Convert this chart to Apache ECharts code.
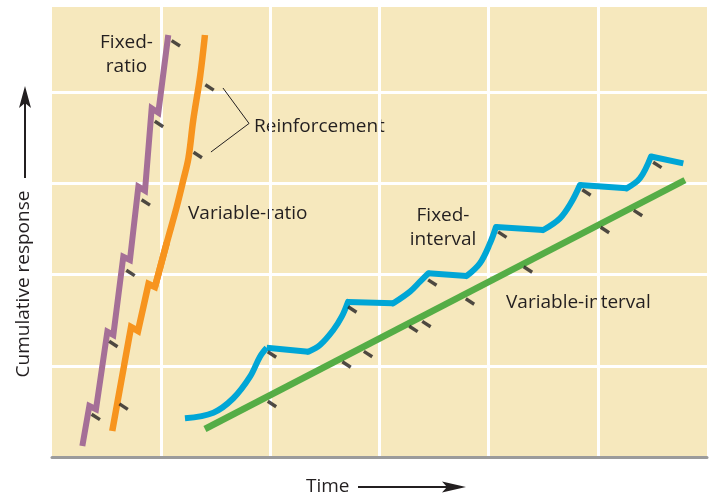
<!DOCTYPE html>
<html>
<head>
<meta charset="utf-8">
<script src="https://cdn.jsdelivr.net/npm/echarts@6/dist/echarts.min.js"></script>
<style>html,body{margin:0;padding:0;background:#fff;}#c{width:710px;height:494px;}</style>
</head>
<body>
<div id="c"></div>
<script>
// Time axis 0-60, cumulative response axis 0-49.34 (arbitrary units)
const fixedRatio = [[2.78,1.21],[3.42,5.59],[4.03,5.23],[5.07,13.74],[5.62,13.38],[6.53,21.96],[7.14,21.60],[7.91,29.64],[8.52,29.20],[9.13,38.23],[9.74,37.75],[10.65,46.27]];
const fixedRatioReinf = [[4.01,4.39],[5.62,12.39],[7.19,20.18],[8.59,27.91],[9.80,36.51],[11.34,45.36]];

const variableRatio = [[5.52,2.85],[7.24,14.25],[7.88,13.82],[8.84,18.97],[9.43,18.64],[10.51,23.47],[11.42,27.41],[12.03,30.37],[12.50,32.79],[12.94,36.95],[13.56,41.67],[14.01,46.27]];
const variableRatioReinf = [[6.56,5.52],[13.35,33.11],[14.43,40.52]];

const fixedInterval = [[12.18,4.24],[14.78,4.86],[16.61,6.44],[18.14,8.80],[19.05,11.00],[19.67,11.98],[23.48,11.55],[24.55,12.28],[25.77,13.93],[26.54,15.38],[27.11,17.00],[31.26,16.85],[32.79,18.13],[33.71,19.22],[34.47,20.14],[37.99,19.85],[39.20,21.24],[40.12,23.43],[40.67,25.22],[45.00,24.89],[46.53,26.17],[47.60,27.99],[48.36,29.82],[52.64,29.46],[53.86,30.56],[54.87,32.95],[57.83,32.20]];
// indices in fixedInterval where a scallop peaks (reinforcement, start of post-reinforcement pause)
const fixedIntervalPeaks = [5,10,14,18,22,25];
const fixedIntervalReinf = [[20.15,11.24],[27.51,16.17],[34.84,19.13],[41.25,24.38],[48.96,29.00],[55.45,32.02]];

const variableInterval = [[14.01,3.07],[57.98,30.37]];
const variableIntervalReinf = [[20.15,5.81],[26.98,10.14],[28.95,11.29],[33.11,14.04],[34.30,14.58],[38.29,17.05],[43.60,20.56],[50.65,24.89],[53.68,26.75]];

const reinforcementCallout = [[15.66,40.46],[18.05,36.57],[14.56,33.44]];

const xTicks = [0,10,20,30,40,50,60];
const yTicks = [0,10,20,30,40];

const FONT = '"Open Sans", sans-serif';
const INK = '#231f20';
const FI_COLOR = '#00a6d6';

function lineSeries(name, data, color, width, smooth, cap) {
  return {name, type:'line', data, showSymbol:false, symbol:'none', animation:false, smooth: smooth || false,
    lineStyle:{color, width, cap: cap || 'butt', join:'miter'}, z:3};
}
function hashSeries(name, data) {
  return {name, type:'scatter', data, symbol:'rect', symbolSize:[10,3.4], symbolRotate:-33,
    itemStyle:{color:INK}, animation:false, z:4};
}

// Variable-ratio: the stepped lower part is drawn straight, the accelerating upper part smoothed
const vrBreak = 5;

// Fixed-interval: scallops (smoothed) and pauses (straight) drawn as pieces of the same record
const fiPieces = [];
let start = 0;
fixedIntervalPeaks.forEach((p, i) => {
  fiPieces.push(lineSeries('Fixed-interval', fixedInterval.slice(start, p + 1), FI_COLOR, 6, 0.35, i === 0 ? 'butt' : 'round'));
  const end = i < fixedIntervalPeaks.length - 1 ? p + 1 : fixedInterval.length - 1;
  fiPieces.push(lineSeries('Fixed-interval', fixedInterval.slice(p, end + 1), FI_COLOR, 6, false, 'butt'));
  start = p + 1;
});

const chart = echarts.init(document.getElementById('c'));
chart.setOption({
  animation:false,
  grid:{left:52, right:3, top:7, bottom:37, show:true, backgroundColor:'#f6e8bd', borderWidth:0},
  xAxis:{type:'value', min:xTicks[0], max:xTicks[xTicks.length-1], interval:10,
    axisLine:{show:true, lineStyle:{color:'#9b9b9b', width:3}}, axisTick:{show:false}, axisLabel:{show:false},
    splitLine:{show:true, showMinLine:false, showMaxLine:false, lineStyle:{color:'#ffffff', width:3}}},
  yAxis:{type:'value', min:yTicks[0], max:49.34, interval:10,
    axisLine:{show:false}, axisTick:{show:false}, axisLabel:{show:false},
    splitLine:{show:true, showMinLine:false, showMaxLine:false, lineStyle:{color:'#ffffff', width:3}}},
  series:[
    lineSeries('Fixed-ratio', fixedRatio, '#a56f97', 6),
    lineSeries('Variable-ratio', variableRatio.slice(0, vrBreak + 1), '#f7941e', 6.5),
    lineSeries('Variable-ratio', variableRatio.slice(vrBreak - 1), '#f7941e', 6.5, 0.35),
    ...fiPieces,
    lineSeries('Variable-interval', variableInterval, '#55ad46', 6.5),
    hashSeries('FR reinforcement', fixedRatioReinf),
    hashSeries('VR reinforcement', variableRatioReinf),
    hashSeries('FI reinforcement', fixedIntervalReinf),
    hashSeries('VI reinforcement', variableIntervalReinf),
    {name:'callout', type:'line', data:reinforcementCallout, symbol:'none', animation:false,
      lineStyle:{color:INK, width:1}, z:4}
  ],
  graphic:[
    {type:'text', x:126.5, y:55, style:{text:'Fixed-\nratio', font:'19px '+FONT, fill:INK, align:'center', verticalAlign:'middle', lineHeight:24}},
    {type:'text', x:188, y:214, style:{text:'Variable-ratio', font:'19px '+FONT, fill:INK, align:'left', verticalAlign:'middle'}},
    {type:'text', x:254, y:127, style:{text:'Reinforcement', font:'19px '+FONT, fill:INK, align:'left', verticalAlign:'middle'}},
    {type:'text', x:443, y:228, style:{text:'Fixed-\ninterval', font:'19px '+FONT, fill:INK, align:'center', verticalAlign:'middle', lineHeight:24}},
    {type:'text', x:506, y:303, style:{text:'Variable-interval', font:'19px '+FONT, fill:INK, align:'left', verticalAlign:'middle'}},
    {type:'text', x:306, y:487, style:{text:'Time', font:'19px '+FONT, fill:INK, align:'left', verticalAlign:'middle'}},
    {type:'text', x:24, y:284, rotation:Math.PI/2, style:{text:'Cumulative response', font:'19px '+FONT, fill:INK, align:'center', verticalAlign:'middle'}},
    {type:'line', shape:{x1:358, y1:487, x2:450, y2:487}, style:{stroke:INK, lineWidth:2}},
    {type:'polygon', shape:{points:[[466,487],[442,481.5],[447,487],[442,492.5]]}, style:{fill:INK}},
    {type:'line', shape:{x1:25, y1:178, x2:25, y2:100}, style:{stroke:INK, lineWidth:2}},
    {type:'polygon', shape:{points:[[25,86],[19,108],[25,103],[31,108]]}, style:{fill:INK}}
  ]
});
</script>
</body>
</html>
